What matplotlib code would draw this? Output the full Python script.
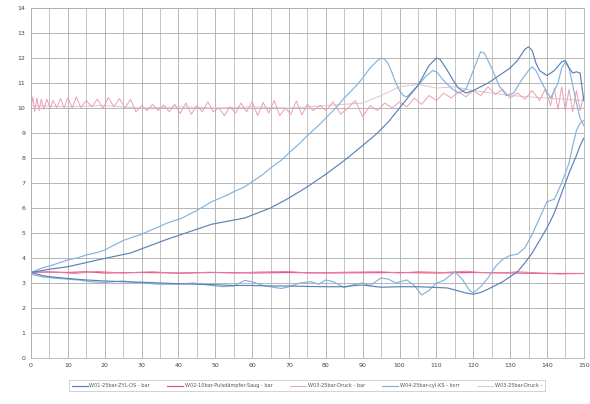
import matplotlib
matplotlib.use("Agg")
import matplotlib.pyplot as plt
from matplotlib.ticker import MultipleLocator

# ---- data -------------------------------------------------------------
# cylinder pressure, run 1 (upper, rises to the 12 bar plateau late)
w01_up_x = [0, 5, 10, 19, 27, 37, 49, 58, 65, 70, 75, 80, 85, 90, 94, 97, 100,
            103, 105, 108, 110, 111, 113, 115, 116, 118, 120, 122, 124, 126, 128,
            130, 132, 134, 135, 136, 137, 138, 140, 142, 144, 145, 146, 147, 148,
            149, 150]
w01_up_y = [3.42, 3.55, 3.65, 3.95, 4.2, 4.75, 5.35, 5.6, 6.0, 6.4, 6.85, 7.35,
            7.9, 8.5, 9.0, 9.45, 10.0, 10.55, 10.9, 11.7, 12.0, 11.95, 11.5, 11.0,
            10.8, 10.6, 10.7, 10.85, 11.0, 11.2, 11.4, 11.6, 11.9, 12.35, 12.45,
            12.3, 11.8, 11.5, 11.3, 11.5, 11.85, 11.9, 11.6, 11.4, 11.45, 11.4, 10.3]

# cylinder pressure, run 2 (upper, first peak near 95)
w04_up_x = [0, 3, 5, 8, 10, 13, 15, 18, 20, 25, 30, 37, 41, 45, 49, 53, 55, 58,
            60, 63, 65, 68, 70, 73, 75, 78, 80, 83, 85, 88, 90, 92, 94, 95, 96, 97,
            98, 99, 100, 101, 102, 103, 105, 107, 109, 110, 112, 114, 116, 118, 120,
            122, 123, 125, 127, 129, 131, 133, 135, 136, 137, 139, 141, 143, 144,
            145, 146, 147, 148, 149, 150]
w04_up_y = [3.42, 3.6, 3.68, 3.82, 3.92, 4.02, 4.12, 4.22, 4.32, 4.7, 4.95, 5.4,
            5.6, 5.9, 6.25, 6.5, 6.65, 6.85, 7.05, 7.35, 7.6, 7.92, 8.2, 8.6, 8.9,
            9.3, 9.6, 10.05, 10.4, 10.85, 11.2, 11.6, 11.9, 12.0, 11.95, 11.75, 11.4,
            11.0, 10.7, 10.5, 10.45, 10.6, 10.9, 11.25, 11.5, 11.45, 11.1, 10.8,
            10.6, 10.75, 11.5, 12.25, 12.2, 11.6, 10.9, 10.5, 10.6, 11.1, 11.5,
            11.65, 11.5, 10.9, 10.4, 11.0, 11.6, 11.85, 11.6, 10.9, 10.2, 9.6, 9.3]

# cylinder pressure, lower runs
w01_lo_x = [0, 3, 5, 10, 15, 20, 25, 30, 35, 40, 45, 50, 55, 60, 65, 70, 75, 80,
            85, 88, 90, 92, 95, 100, 105, 110, 113, 116, 118, 120, 122, 124, 126,
            128, 130, 132, 134, 136, 138, 140, 142, 144, 146, 148, 149, 150]
w01_lo_y = [3.42, 3.3, 3.25, 3.18, 3.12, 3.08, 3.05, 3.03, 3.0, 2.97, 2.95, 2.93,
            2.9, 2.9, 2.88, 2.88, 2.86, 2.85, 2.85, 2.9, 2.92, 2.88, 2.83, 2.85,
            2.85, 2.82, 2.8, 2.68, 2.6, 2.55, 2.62, 2.75, 2.9, 3.05, 3.25, 3.45,
            3.8, 4.2, 4.7, 5.2, 5.8, 6.6, 7.4, 8.1, 8.5, 8.8]

w04_lo_x = [0, 3, 6, 10, 13, 16, 20, 25, 28, 32, 35, 40, 44, 48, 52, 55, 58, 60,
            63, 66, 68, 70, 73, 76, 78, 80, 82, 85, 88, 90, 92, 95, 97, 99, 102,
            104, 106, 108, 110, 112, 115, 117, 119, 120, 122, 124, 126, 128, 130,
            132, 134, 136, 138, 140, 142, 144, 146, 147, 148, 149, 150]
w04_lo_y = [3.35, 3.25, 3.2, 3.15, 3.12, 3.05, 3.02, 3.08, 3.02, 2.98, 2.95, 2.95,
            3.0, 2.92, 2.85, 2.88, 3.1, 3.05, 2.9, 2.82, 2.78, 2.85, 3.0, 3.05,
            2.95, 3.12, 3.05, 2.82, 2.95, 3.0, 2.9, 3.2, 3.15, 3.0, 3.12, 2.9,
            2.52, 2.7, 3.0, 3.1, 3.45, 3.15, 2.7, 2.6, 2.85, 3.2, 3.65, 3.95, 4.1,
            4.15, 4.4, 4.95, 5.6, 6.25, 6.35, 7.0, 7.8, 8.5, 9.1, 9.4, 9.5]

# suction damper pressure (two runs, both near 3.4 bar)
w02_a_x = [0, 10, 15, 20, 30, 40, 50, 60, 70, 80, 90, 100, 110, 120, 130, 140, 150]
w02_a_y = [3.45, 3.42, 3.45, 3.4, 3.42, 3.4, 3.42, 3.4, 3.42, 3.4, 3.41, 3.42,
           3.4, 3.42, 3.4, 3.38, 3.38]
w02_b_x = [0, 5, 12, 18, 25, 33, 40, 48, 55, 62, 70, 75, 85, 95, 100, 105, 112,
           118, 122, 128, 132, 138, 143, 150]
w02_b_y = [3.4, 3.45, 3.38, 3.46, 3.4, 3.45, 3.38, 3.43, 3.4, 3.44, 3.46, 3.4,
           3.43, 3.45, 3.4, 3.45, 3.42, 3.47, 3.42, 3.4, 3.45, 3.4, 3.36, 3.38]

# discharge pressure, oscillating around 10 bar
w03_x = [0, 0.5, 1.0, 1.6, 2.2, 2.8, 3.5, 4.3, 5.2, 6.0, 7.0, 8.0, 9.0, 10.0,
         11.2, 12.3, 13.5, 15, 16.5, 18, 19.5, 21, 22.5, 24, 25.5, 27, 28.5, 30,
         31.5, 33, 34.5, 36, 37.5, 39, 40.5, 42, 43.5, 45, 46.5, 48, 49.5, 51,
         52.5, 54, 55.5, 57, 58.5, 60, 61.5, 63, 64.5, 66, 67.5, 69, 70.5, 72,
         73.5, 75, 76.5, 78.5, 80, 82, 84, 86, 88, 90, 92, 94, 96, 98, 100, 102,
         104, 106, 108, 110, 112, 114, 116, 118, 120, 122, 124, 126, 128, 130,
         132, 134, 136, 138, 139.5, 141, 142, 143, 144, 145, 146, 147, 148, 149,
         150]
w03_y = [10.0, 10.45, 9.85, 10.4, 9.9, 10.35, 9.95, 10.35, 10.0, 10.3, 10.02,
         10.38, 10.0, 10.42, 10.0, 10.45, 10.02, 10.3, 10.05, 10.35, 9.98, 10.42,
         10.05, 10.38, 10.0, 10.35, 9.85, 10.1, 9.9, 10.15, 9.9, 10.12, 9.85,
         10.15, 9.78, 10.2, 9.75, 10.1, 9.85, 10.25, 9.85, 10.0, 9.7, 10.05, 9.8,
         10.2, 9.85, 10.25, 9.7, 10.22, 9.8, 10.3, 9.7, 10.0, 9.75, 10.28, 9.72,
         10.15, 9.9, 10.1, 9.9, 10.25, 9.75, 10.0, 10.3, 9.65, 10.1, 9.9, 10.2,
         10.0, 10.25, 10.05, 10.4, 10.15, 10.5, 10.3, 10.6, 10.4, 10.65, 10.45,
         10.7, 10.5, 10.85, 10.55, 10.75, 10.4, 10.6, 10.35, 10.7, 10.3, 10.75,
         10.1, 10.8, 9.95, 10.85, 9.9, 10.75, 9.85, 10.7, 9.9, 10.5]

# discharge pressure, second trace
w03b_x = [0, 10, 20, 30, 40, 50, 60, 70, 80, 90, 95, 100, 105, 110, 115, 120,
          125, 130, 135, 140, 145, 150]
w03b_y = [10.1, 10.05, 10.1, 10.0, 10.05, 10.0, 10.05, 10.0, 10.1, 10.2, 10.5,
          10.85, 10.95, 10.8, 10.85, 10.7, 10.6, 10.5, 10.45, 10.4, 10.35, 10.3]

legend_labels = ["W01-25bar-ZYL-OS - bar", "W02-10bar-Pulsdämpfer-Saug - bar",
                 "W03-25bar-Druck - bar", "W04-25bar-cyl-KS - korr",
                 "W03-25bar-Druck -"]

x_ticks = list(range(0, 151, 10))
y_ticks = list(range(0, 15))

# ---- styling ------------------------------------------------------------
c_w01 = "#5a82b8"
c_w04 = "#84b3da"
c_w02 = "#e8508a"
c_w03 = "#eb9fb6"
c_w03b = "#dcc6cc"

fig = plt.figure(figsize=(5.9, 4.04), dpi=100)
ax = fig.add_axes([0.0525, 0.114, 0.937, 0.866])

ax.set_xlim(0, 150)
ax.set_ylim(0, 14)
ax.set_xticks(x_ticks)
ax.set_yticks(y_ticks)
ax.xaxis.set_minor_locator(MultipleLocator(5))
ax.grid(which="major", color="#a9a9a9", lw=0.6)
ax.grid(which="minor", axis="x", color="#b4b4b4", lw=0.55)
ax.set_axisbelow(True)
ax.tick_params(which="both", length=0, labelsize=4.5, labelcolor="#454545",
               pad=4)
for s in ax.spines.values():
    s.set_color("#b0b0b0")
    s.set_linewidth(0.6)

lw = 0.85
ax.plot(w03b_x, w03b_y, color=c_w03b, lw=0.7, label=legend_labels[4])
ax.plot(w03_x, w03_y, color=c_w03, lw=0.7, label=legend_labels[2])
ax.plot(w02_a_x, w02_a_y, color=c_w02, lw=lw, label=legend_labels[1])
ax.plot(w02_b_x, w02_b_y, color="#ea7aa0", lw=0.7)
ax.plot(w04_up_x, w04_up_y, color=c_w04, lw=lw, label=legend_labels[3])
ax.plot(w04_lo_x, w04_lo_y, color=c_w04, lw=lw)
ax.plot(w01_up_x, w01_up_y, color=c_w01, lw=lw, label=legend_labels[0])
ax.plot(w01_lo_x, w01_lo_y, color=c_w01, lw=lw)

handles, labels = ax.get_legend_handles_labels()
order = [labels.index(l) for l in legend_labels]
leg = fig.legend([handles[i] for i in order], [labels[i] for i in order],
                 loc="center", bbox_to_anchor=(0.52, 0.045), ncol=5,
                 fontsize=3.6, frameon=True, fancybox=False, handlelength=3.2,
                 columnspacing=3.5, handletextpad=0.3, borderpad=0.6)
leg.get_frame().set_edgecolor("#b0b0b0")
leg.get_frame().set_linewidth(0.5)
for t in leg.get_texts():
    t.set_color("#555555")

fig.savefig("out.png", dpi=100)
